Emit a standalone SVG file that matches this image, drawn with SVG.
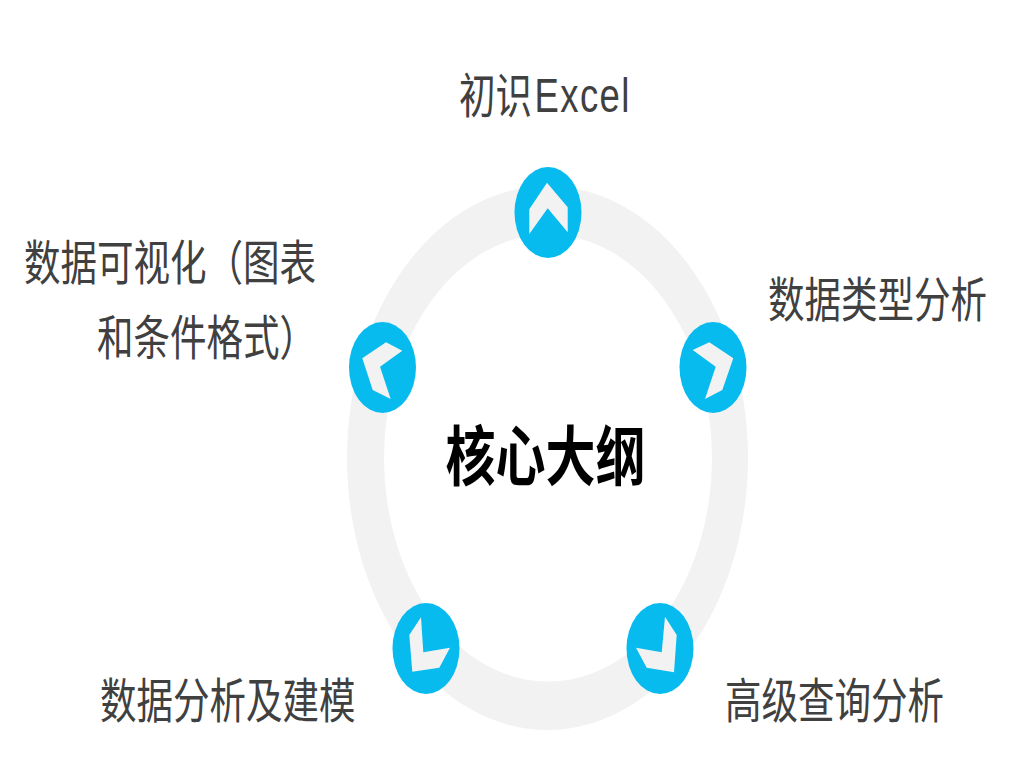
<svg xmlns="http://www.w3.org/2000/svg" width="1024" height="768" viewBox="0 0 1024 768">
<style>
.badge{fill:#08bbef}
.chev{fill:#f2f2f2}
.ring{fill:#f2f2f2;fill-rule:evenodd}
text{font-family:"Noto Sans CJK SC","Liberation Sans",sans-serif}
.lab{font-size:36.5px;fill:#404040;font-weight:400}
.lat{font-family:"Liberation Sans",sans-serif;letter-spacing:1.4px}
.title{font-size:50px;fill:#000;font-weight:700}
</style>
<rect width="1024" height="768" fill="#fff"/>
<g id="connectors">
<path class="ring" d="M347 458a200.500 272 0 1 0 401 0a200.500 272 0 1 0-401 0ZM384 458a164 223.500 0 1 0 328 0a164 223.500 0 1 0-328 0Z"/>
</g>
<g id="node-top">
<ellipse class="badge" cx="548" cy="212.500" rx="33.500" ry="45.500"/>
<polygon class="chev" points="547,182.700 567.700,207.300 567.700,232.300 547.700,208.300 529.300,234 529.300,209.300"/>
<text class="lab" transform="translate(459 113) scale(1 1.3)">初识<tspan class="lat" x="75.500" y="-0.800">Excel</tspan></text>
</g>
<g id="node-right">
<ellipse class="badge" cx="713" cy="367.500" rx="33.500" ry="45.500"/>
<polygon class="chev" points="692.700,350 709.300,342.300 733.300,358.300 722.300,390 705,399 715.700,366.700"/>
<text class="lab" transform="translate(768 317) scale(1 1.3)">数据类型分析</text>
</g>
<g id="node-bottom-right">
<ellipse class="badge" cx="660" cy="648.500" rx="33.500" ry="45.500"/>
<polygon class="chev" points="665,616.700 676.700,635 674,672.300 646.700,667.700 636,647.700 661.700,652.300"/>
<text class="lab" transform="translate(725 718) scale(1 1.3)">高级查询分析</text>
</g>
<g id="node-bottom-left">
<ellipse class="badge" cx="426" cy="648.500" rx="33.500" ry="45.500"/>
<polygon class="chev" points="421,617.300 409.300,635 412.300,671.700 439.300,667.700 450,647.700 423.300,652.300"/>
<text class="lab" transform="translate(100 718) scale(1 1.3)">数据分析及建模</text>
</g>
<g id="node-left">
<ellipse class="badge" cx="382.500" cy="367.500" rx="33.500" ry="45.500"/>
<polygon class="chev" points="402.300,350.700 386,342.300 362.300,358.300 372.700,390 390.700,399 380,366.700"/>
<text class="lab" transform="translate(24 280) scale(1 1.3)">数据可视化（图表</text>
<text class="lab" transform="translate(97 355) scale(1 1.3)">和条件格式）</text>
</g>
<g id="node-center">
<text class="title" transform="translate(445.500 480) scale(1 1.3)">核心大纲</text>
</g>
</svg>
